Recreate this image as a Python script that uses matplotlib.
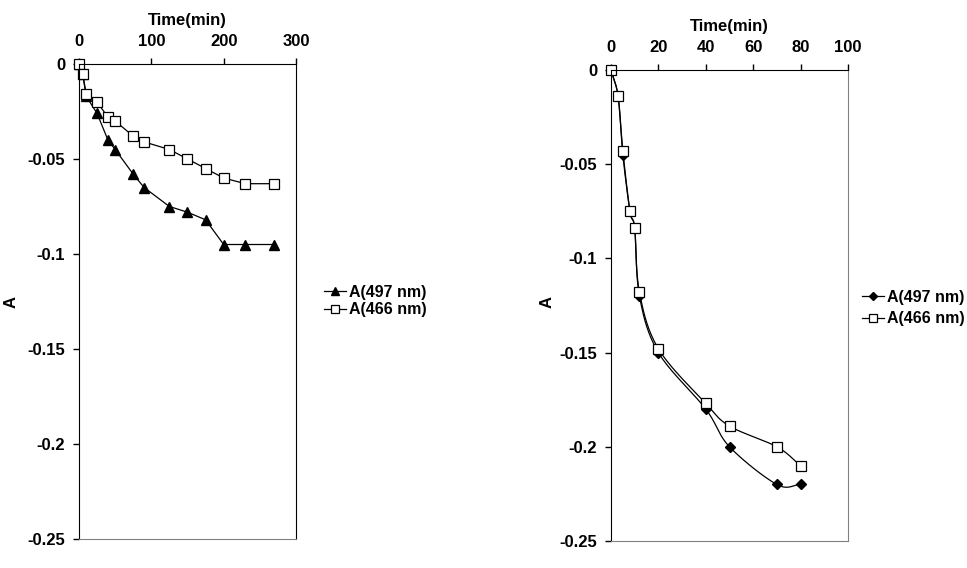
import numpy as np
import matplotlib.pyplot as plt
from matplotlib.ticker import FuncFormatter

plt.rcParams['font.family'] = ['Liberation Sans', 'DejaVu Sans']
plt.rcParams['font.weight'] = 'bold'

# left panel: long run
t_left = [0, 5, 10, 25, 40, 50, 75, 90, 125, 150, 175, 200, 230, 270]
a497_left = [0, -0.005, -0.017, -0.026, -0.040, -0.045, -0.058, -0.065,
             -0.075, -0.078, -0.082, -0.095, -0.095, -0.095]
a466_left = [0, -0.005, -0.016, -0.020, -0.028, -0.030, -0.038, -0.041,
             -0.045, -0.050, -0.055, -0.060, -0.063, -0.063]

# right panel: short run
t_right = [0, 3, 5, 8, 10, 12, 20, 40, 50, 70, 80]
a497_right = [0, -0.014, -0.045, -0.075, -0.084, -0.120, -0.150, -0.180,
              -0.200, -0.220, -0.220]
a466_right = [0, -0.014, -0.043, -0.075, -0.084, -0.118, -0.148, -0.177,
              -0.189, -0.200, -0.210]

y_ticks = [0, -0.05, -0.1, -0.15, -0.2, -0.25]
FS = 12
LFS = 11.5


def smooth(x, y, n=20):
    # Catmull-Rom style curve through the points (like Excel's smoothed line)
    x = np.asarray(x, float)
    y = np.asarray(y, float)
    px = np.concatenate([[2 * x[0] - x[1]], x, [2 * x[-1] - x[-2]]])
    py = np.concatenate([[2 * y[0] - y[1]], y, [2 * y[-1] - y[-2]]])
    xs, ys = [], []
    s = np.linspace(0, 1, n)
    for i in range(1, len(px) - 2):
        p0, p1, p2, p3 = px[i - 1:i + 3]
        q0, q1, q2, q3 = py[i - 1:i + 3]
        m1x, m2x = (p2 - p0) / 6, (p3 - p1) / 6
        m1y, m2y = (q2 - q0) / 6, (q3 - q1) / 6
        b0 = (1 - s) ** 3
        b1 = 3 * s * (1 - s) ** 2
        b2 = 3 * s ** 2 * (1 - s)
        b3 = s ** 3
        xs.append(b0 * p1 + b1 * (p1 + m1x) + b2 * (p2 - m2x) + b3 * p2)
        ys.append(b0 * q1 + b1 * (q1 + m1y) + b2 * (q2 - m2y) + b3 * q2)
    return np.concatenate(xs), np.concatenate(ys)


def style_axes(ax, xmax, xstep, ylab_x):
    ax.set_xlim(0, xmax)
    ax.set_ylim(-0.25, 0)
    ax.xaxis.tick_top()
    ax.xaxis.set_label_position('top')
    ax.set_xticks(np.arange(0, xmax + 1, xstep))
    ax.set_yticks(y_ticks)
    ax.yaxis.set_major_formatter(FuncFormatter(lambda v, p: '0' if v == 0 else ('%g' % v)))
    ax.tick_params(axis='both', direction='out', length=4, width=1, labelsize=FS)
    ax.tick_params(axis='x', pad=6.5)
    ax.tick_params(axis='y', pad=6)
    ax.spines['bottom'].set_color('#808080')
    ax.spines['right'].set_color('#808080')
    ax.set_xlabel('Time(min)', fontsize=FS, fontweight='bold', labelpad=7)
    ax.set_ylabel('A', fontsize=FS, fontweight='bold')
    ax.yaxis.set_label_coords(ylab_x / W, 1 - 302 / H, transform=fig.transFigure)


fig = plt.figure(figsize=(9.67, 5.68), dpi=100)
W, H = 967, 568

ax1 = fig.add_axes([79 / W, (H - 539) / H, (296 - 79) / W, (539 - 64) / H])
style_axes(ax1, 300, 100, 19)
ax1.spines['right'].set_color('black')
ax1.plot(t_left, a497_left, '-', color='black', lw=0.9, marker='^', ms=7.5,
         mfc='black', mec='black', label='A(497 nm)', clip_on=False)
ax1.plot(t_left, a466_left, '-', color='black', lw=0.9, marker='s', ms=7.5,
         mfc='white', mec='black', mew=0.9, label='A(466 nm)', clip_on=False)
ax1.legend(loc='center left', bbox_to_anchor=(324 / W, 1 - 301 / H),
           bbox_transform=fig.transFigure, frameon=False, fontsize=LFS,
           handlelength=1.4, handletextpad=0.15, labelspacing=0.15,
           borderpad=0, borderaxespad=0, markerscale=0.7)

ax2 = fig.add_axes([611 / W, (H - 541) / H, (848 - 611) / W, (541 - 70) / H])
style_axes(ax2, 100, 20, 555)
sx, sy = smooth(t_right, a497_right)
ax2.plot(sx, sy, '-', color='black', lw=0.9, clip_on=False)
ax2.plot(t_right, a497_right, linestyle='none', marker='D', ms=5.5,
         mfc='black', mec='black', clip_on=False)
sx, sy = smooth(t_right, a466_right)
ax2.plot(sx, sy, '-', color='black', lw=0.9, clip_on=False)
ax2.plot(t_right, a466_right, linestyle='none', marker='s', ms=7.5,
         mfc='white', mec='black', mew=0.9, clip_on=False)
h1, = ax2.plot([], [], '-', color='black', lw=0.9, marker='D', ms=5.5,
               mfc='black', mec='black', label='A(497 nm)')
h2, = ax2.plot([], [], '-', color='black', lw=0.9, marker='s', ms=7.5,
               mfc='white', mec='black', mew=0.9, label='A(466 nm)')
ax2.legend(handles=[h1, h2], loc='center left', bbox_to_anchor=(862 / W, 1 - 308 / H),
           bbox_transform=fig.transFigure, frameon=False, fontsize=LFS,
           handlelength=1.4, handletextpad=0.15, labelspacing=0.4,
           borderpad=0, borderaxespad=0, markerscale=0.75)

fig.savefig('out.png', dpi=100)
